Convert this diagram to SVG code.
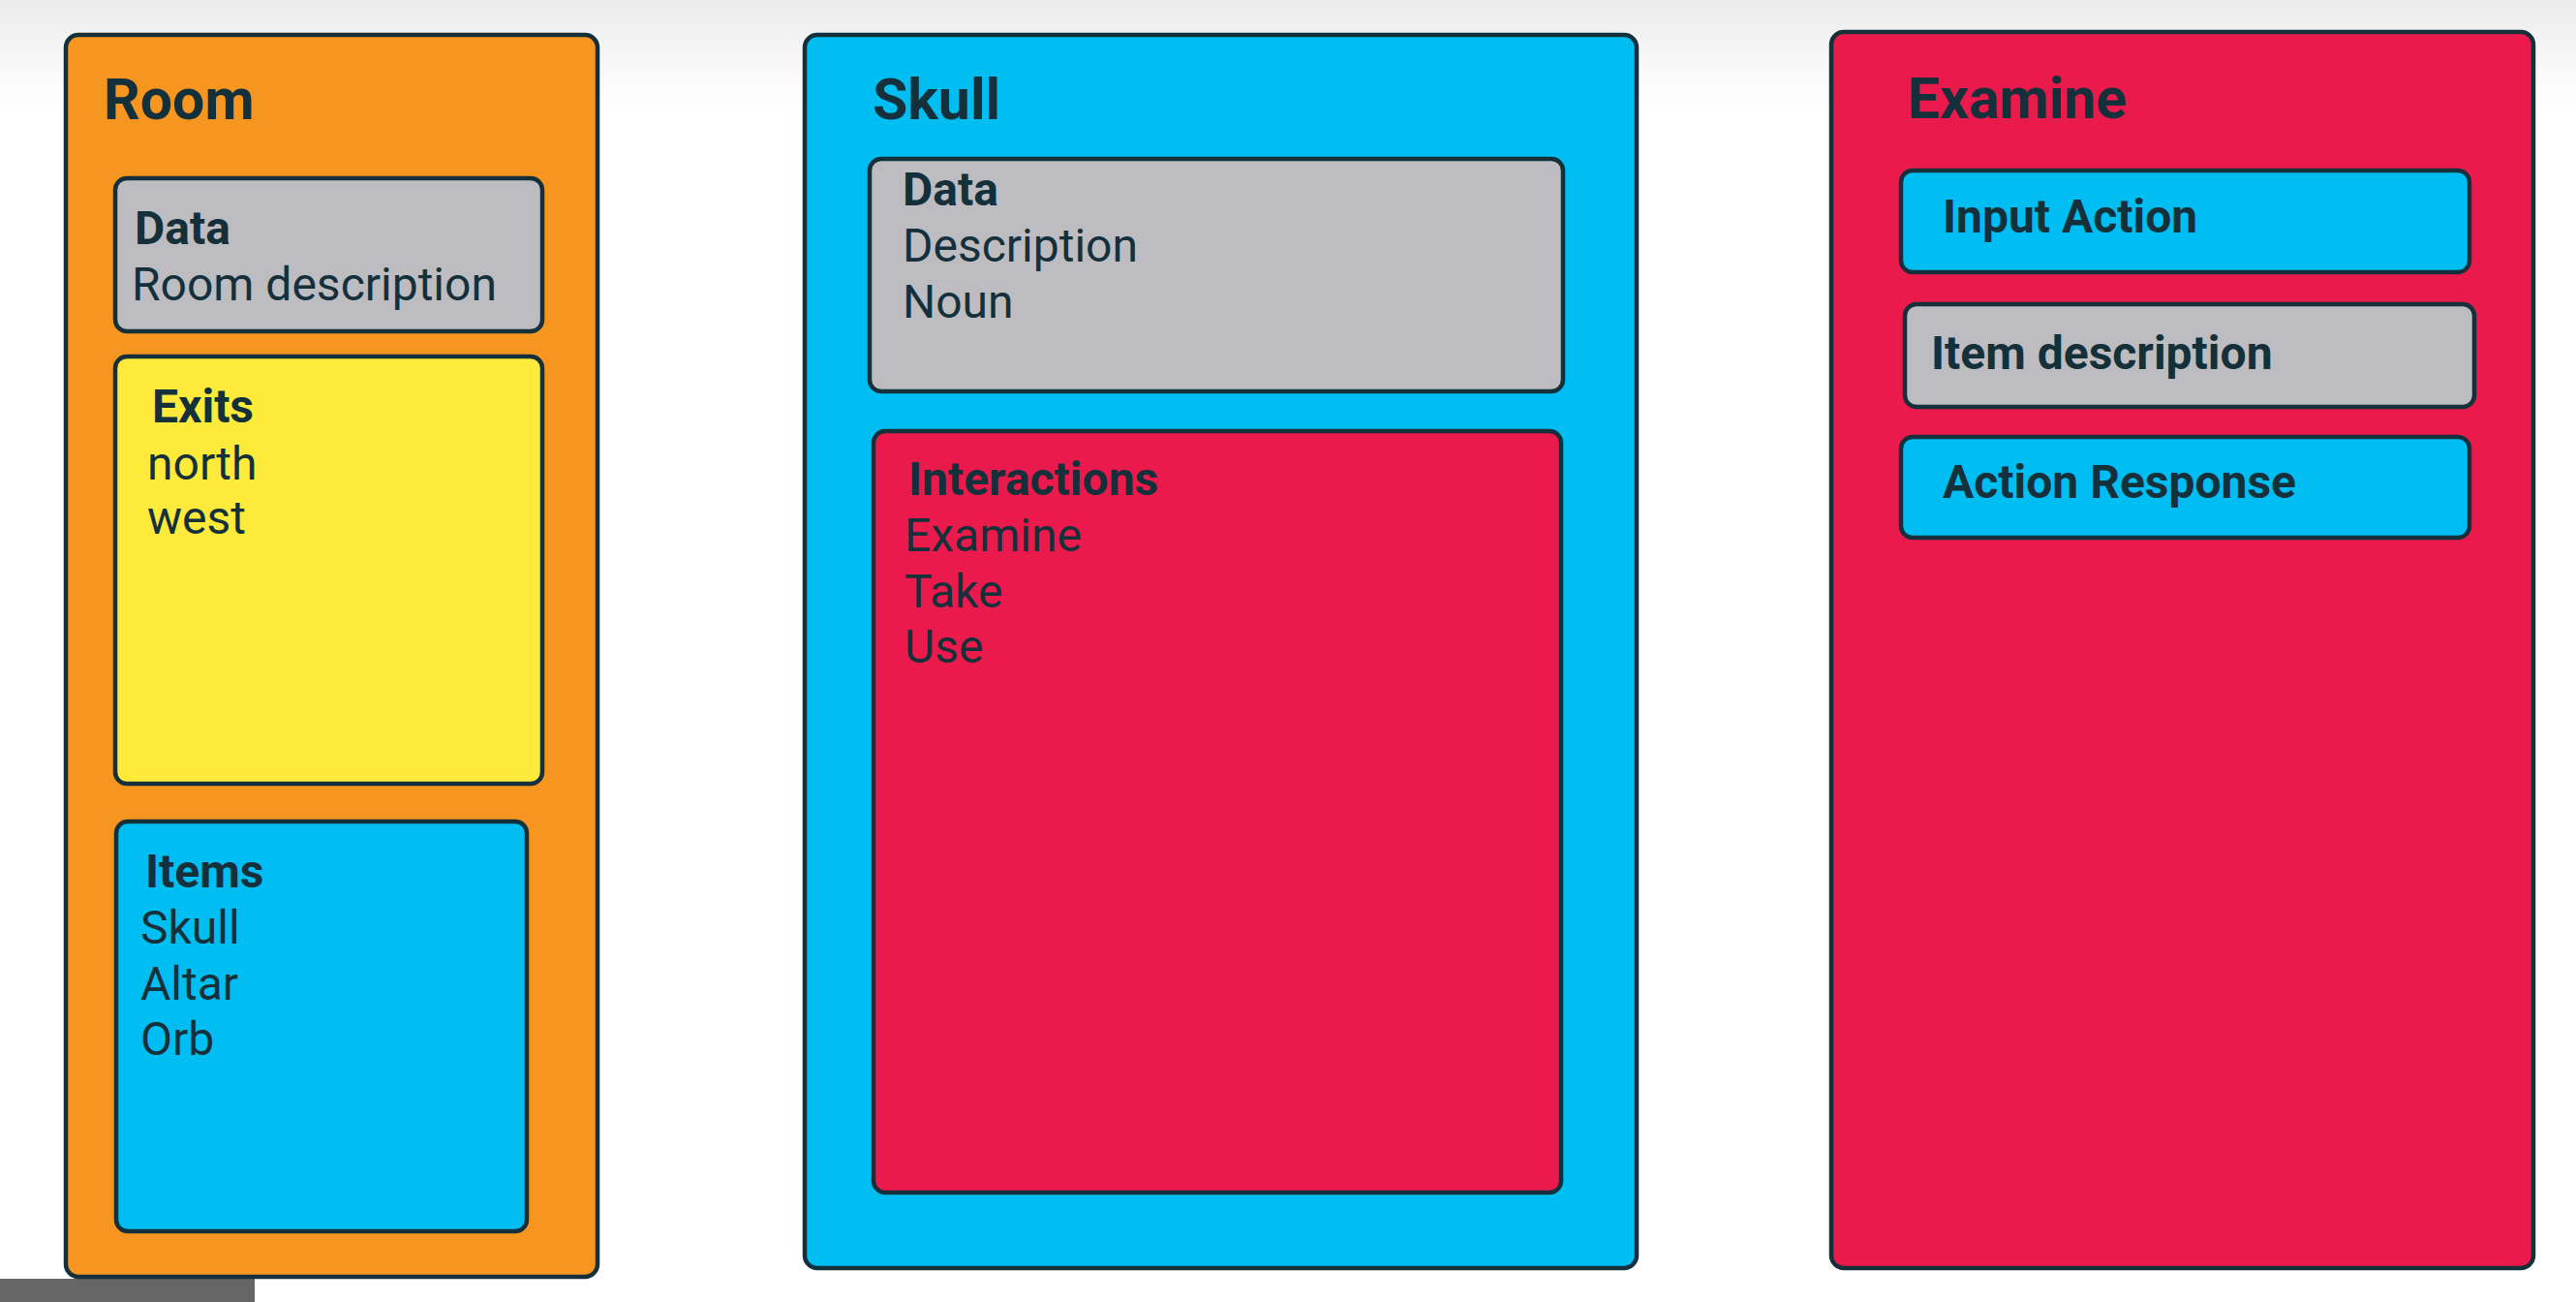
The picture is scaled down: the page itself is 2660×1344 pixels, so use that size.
<svg xmlns="http://www.w3.org/2000/svg" width="2660" height="1344" viewBox="0 0 2660 1344">
<defs>
<linearGradient id="bg" x1="0" y1="0" x2="0" y2="1">
<stop offset="0" stop-color="#ececec"/>
<stop offset="1" stop-color="#ffffff"/>
</linearGradient>
<style>
.box{stroke:#14303a;stroke-width:4.5}
.orange{fill:#F6951F}
.gray{fill:#BDBCC1}
.yellow{fill:#FDEA3B}
.blue{fill:#00BEF1}
.red{fill:#EB1A4C}
text{font-family:Roboto,"Liberation Sans",sans-serif;fill:#14303a}
.title{font-size:59px;font-weight:bold}
.head{font-size:48px;font-weight:bold}
.body{font-size:48px}
</style>
</defs>
<rect x="0" y="0" width="2660" height="1344" fill="#ffffff"/>
<rect x="0" y="0" width="2660" height="110" fill="url(#bg)"/>
<rect x="0" y="1320" width="263" height="24" fill="#666666"/>

<g id="room">
<rect class="box orange" x="68" y="36" width="549" height="1282" rx="13"/>
<text class="title" x="107" y="123">Room</text>
</g>
<g id="room-data">
<rect class="box gray" x="119" y="184" width="441" height="158" rx="12"/>
<text class="head" x="139" y="252">Data</text>
<text class="body" x="136" y="310">Room description</text>
</g>
<g id="room-exits">
<rect class="box yellow" x="119" y="368" width="441" height="441" rx="12"/>
<text class="head" x="157" y="436">Exits</text>
<text class="body" x="152" y="495">north</text>
<text class="body" x="152" y="551">west</text>
</g>
<g id="room-items">
<rect class="box blue" x="120" y="848" width="424" height="423" rx="12"/>
<text class="head" x="150" y="916">Items</text>
<text class="body" x="145" y="974">Skull</text>
<text class="body" x="145" y="1032">Altar</text>
<text class="body" x="145" y="1089">Orb</text>
</g>

<g id="skull">
<rect class="box blue" x="831" y="36" width="859" height="1273" rx="13"/>
<text class="title" x="901" y="123">Skull</text>
</g>
<g id="skull-data">
<rect class="box gray" x="898" y="164" width="716" height="240" rx="12"/>
<text class="head" x="932" y="212">Data</text>
<text class="body" x="932" y="270">Description</text>
<text class="body" x="932" y="328">Noun</text>
</g>
<g id="skull-interactions">
<rect class="box red" x="902" y="445" width="710" height="786" rx="12"/>
<text class="head" x="938" y="511">Interactions</text>
<text class="body" x="934" y="569">Examine</text>
<text class="body" x="934" y="627">Take</text>
<text class="body" x="934" y="684">Use</text>
</g>

<g id="examine">
<rect class="box red" x="1891" y="33" width="725" height="1276" rx="13"/>
<text class="title" x="1970" y="122">Examine</text>
</g>
<g id="input-action">
<rect class="box blue" x="1963" y="176" width="587" height="105" rx="12"/>
<text class="head" x="2006" y="240">Input Action</text>
</g>
<g id="item-description">
<rect class="box gray" x="1967" y="314" width="588" height="106" rx="12"/>
<text class="head" x="1994" y="381">Item description</text>
</g>
<g id="action-response">
<rect class="box blue" x="1963" y="451" width="587" height="104" rx="12"/>
<text class="head" x="2006" y="514">Action Response</text>
</g>

<g id="connectors"></g>
</svg>
